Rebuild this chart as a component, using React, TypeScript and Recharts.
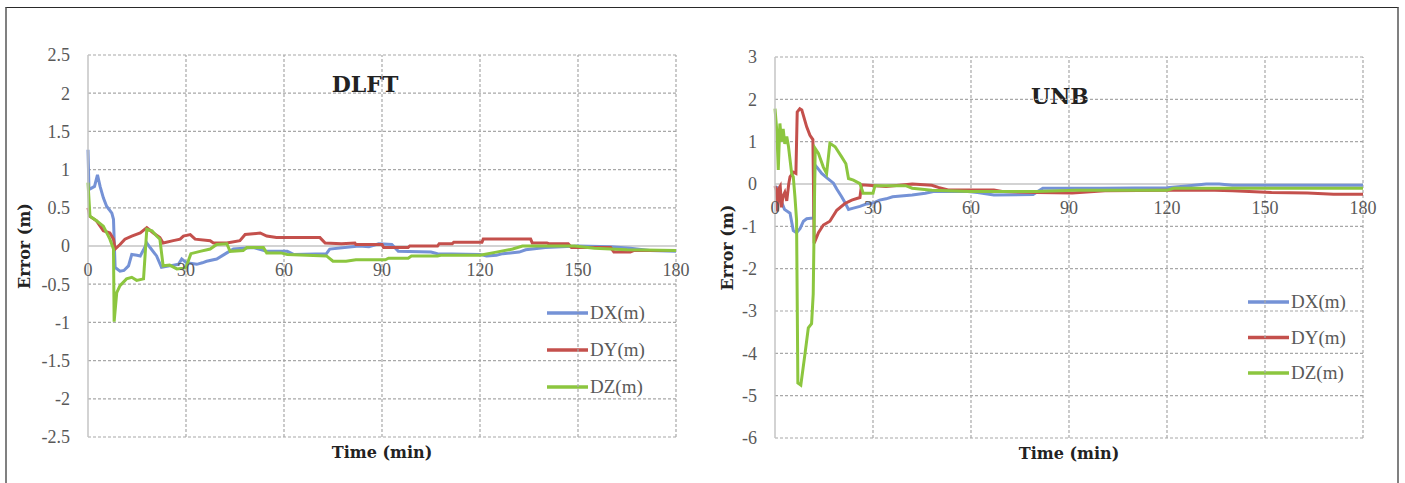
import { LineChart, Line, XAxis, YAxis, ReferenceLine } from "recharts";

type Pt = [number, number];

const timeTicks = [0, 30, 60, 90, 120, 150, 180];
const dlftTicks = [-2.5, -2, -1.5, -1, -0.5, 0, 0.5, 1, 1.5, 2, 2.5];
const unbTicks = [-6, -5, -4, -3, -2, -1, 0, 1, 2, 3];
const seriesNames = ["DX(m)", "DY(m)", "DZ(m)"];
const seriesColors = ["#7592d6", "#c4504c", "#8cc63f"];

// DLFT station, [time (min), error (m)]
const dlftDX: Pt[] = [
	[0, 1.26], [0.3, 0.74], [2, 0.78], [2.9, 0.93], [3.7, 0.78], [4.7, 0.63], [5.7, 0.52], [7.3, 0.43],
	[7.8, 0.35], [8.3, -0.28], [9.8, -0.33], [11, -0.32], [12.4, -0.26], [13.4, -0.11], [15, -0.12],
	[16, -0.13], [17, -0.05], [18, 0.04], [19, -0.02], [21, -0.13], [22.5, -0.28], [25, -0.26],
	[27.7, -0.24], [28.7, -0.17], [30.2, -0.22], [33.3, -0.24], [35, -0.22], [36.3, -0.2], [39.4, -0.17],
	[42.5, -0.09], [44.5, -0.04], [50.6, -0.02], [54.7, -0.07], [61, -0.07], [62.9, -0.11], [73, -0.1],
	[74, -0.04], [83, 0], [86, -0.01], [89, 0.03], [93, 0.02], [95, -0.07], [105, -0.08], [107, -0.1],
	[120, -0.11], [122, -0.13], [125, -0.12], [127, -0.1], [132, -0.08], [134, -0.05], [140, -0.02],
	[150, 0], [160, -0.01], [166, -0.03], [172, -0.06], [180, -0.07],
];
const dlftDY: Pt[] = [
	[0, 0.5], [0.5, 0.39], [2.6, 0.33], [4.7, 0.2], [6.7, 0.17], [7.8, 0.09], [8.3, -0.04], [9.8, 0.02],
	[11.3, 0.09], [13.4, 0.13], [16, 0.17], [18, 0.24], [20, 0.17], [22, 0.11], [23, 0.04], [26.1, 0.07],
	[28.2, 0.09], [29.2, 0.13], [31.3, 0.15], [32.8, 0.09], [37.4, 0.07], [38.4, 0.04], [42.5, 0.04],
	[46.5, 0.07], [48.1, 0.15], [52.7, 0.17], [54.7, 0.13], [57.7, 0.11], [71, 0.11], [72.6, 0.04],
	[77.6, 0.03], [81.7, 0.04], [82, 0.02], [90, 0.02], [90.5, -0.02], [98, -0.02], [98.5, 0],
	[107, 0], [107.5, 0.03], [111.5, 0.03], [112, 0.05], [120.6, 0.05], [121, 0.09], [135.5, 0.09],
	[136, 0.04], [140.5, 0.04], [141, 0.03], [147, 0.03], [148, -0.02], [160, -0.02], [161, -0.08],
	[166, -0.08], [167, -0.06], [180, -0.06],
];
const dlftDZ: Pt[] = [
	[0, 0.83], [0.6, 0.39], [2.6, 0.33], [4.7, 0.26], [6.7, 0.09], [7.8, -0.04], [8, -0.99], [8.8, -0.61],
	[9.8, -0.52], [11.8, -0.43], [13.4, -0.41], [14.9, -0.45], [17, -0.43], [18, 0.22], [19.6, 0.2],
	[21, 0.13], [22, 0.09], [23, -0.26], [25, -0.25], [27.2, -0.3], [29.2, -0.29], [30, -0.28],
	[31.5, -0.1], [34.3, -0.07], [37.4, -0.04], [39.4, 0.02], [42.5, 0.03], [43.5, -0.07], [47.5, -0.06],
	[48.6, -0.02], [53.7, -0.02], [54.7, -0.09], [59, -0.09], [61, -0.11], [73, -0.13], [75, -0.2],
	[79, -0.2], [82, -0.18], [91, -0.18], [92, -0.16], [98, -0.16], [99, -0.13], [107, -0.13],
	[108, -0.12], [120, -0.12], [125, -0.08], [130, -0.04], [133, 0], [149, 0], [155, -0.03],
	[165, -0.05], [180, -0.06],
];

// UNB station
const unbDX: Pt[] = [
	[0, -0.06], [0.5, -0.08], [1.4, -0.3], [2.9, -0.6], [4.6, -0.69], [5.6, -1.1], [6.6, -1.15],
	[7.7, -1.05], [8.7, -0.88], [9.7, -0.82], [11.8, -0.8], [12.2, 0.45], [13, 0.38], [14.3, 0.25],
	[15.8, 0.15], [17.9, 0.02], [18.9, -0.12], [20.4, -0.3], [21.5, -0.45], [22.5, -0.6], [24, -0.57],
	[26, -0.53], [28, -0.47], [30, -0.45], [32, -0.38], [34, -0.35], [36, -0.3], [42, -0.26],
	[46, -0.22], [48.5, -0.18], [59, -0.18], [62, -0.2], [67, -0.26], [79, -0.25], [82, -0.1],
	[100, -0.1], [120, -0.09], [126, -0.05], [132, 0], [136, 0], [140, -0.03], [180, -0.03],
];
const unbDY: Pt[] = [
	[0, -0.05], [0.4, -0.15], [0.8, -0.65], [1.2, -0.1], [1.6, -0.05], [2, -0.55], [2.4, -0.3],
	[3, -0.2], [3.6, -0.4], [4.2, 0], [4.6, 0.17], [5.6, 0.28], [6.4, 0.25], [6.8, 1.7], [7.6, 1.78],
	[8.2, 1.75], [9.7, 1.35], [10.7, 1.15], [11.6, 1.05], [12, -1.4], [13.3, -1.15], [14.8, -0.97],
	[16.8, -0.88], [18.9, -0.62], [21.4, -0.46], [23.5, -0.38], [26, -0.32], [26.5, -0.02], [34, -0.06],
	[42, 0], [48, -0.03], [50, -0.08], [53, -0.14], [67, -0.14], [70, -0.18], [80, -0.2], [91, -0.21],
	[101, -0.16], [132, -0.14], [140, -0.16], [152, -0.2], [163, -0.21], [171, -0.24], [180, -0.24],
];
const unbDZ: Pt[] = [
	[0, 1.78], [0.3, 1.5], [0.6, 1.2], [1, 0.33], [1.3, 1], [1.5, 1.43], [2, 1], [2.5, 1.3], [3, 0.95],
	[3.6, 1.12], [4.1, 0.9], [5.1, 0.25], [5.6, 0.17], [6.1, -0.3], [6.6, -0.85], [7, -4.7], [7.9, -4.75],
	[9.2, -4], [10.2, -3.4], [11.2, -3.3], [11.7, -2.6], [12.3, 0.84], [13.3, 0.72], [14.8, 0.4],
	[15.8, 0.25], [16.8, 0.96], [18.4, 0.88], [20.4, 0.64], [21.7, 0.48], [22.5, 0.13], [24, 0.09],
	[26, 0.01], [27, -0.22], [30, -0.22], [30.6, -0.04], [40, -0.04], [42, -0.1], [48, -0.15],
	[60, -0.18], [80, -0.18], [92, -0.15], [120, -0.15], [122, -0.1], [180, -0.1],
];

const tickFont = "'Liberation Serif', 'Times New Roman', serif";
const titleFont = "'DejaVu Serif', serif";
const gridColor = "#a8a8a8";
const toRows = (pts: Pt[]) => pts.map(([t, v]) => ({ t, v }));

type PanelProps = {
	title: string;
	series: Pt[][];
	yTicks: number[];
	width: number;
	margin: { top: number; right: number; bottom: number; left: number };
	yAxisWidth: number;
	titleX: number;
	titleY: number;
	labelX: number;
	legendX: number;
	legendTop: number;
	legendGap: number;
};

const HEIGHT = 483;
const X_AXIS_HEIGHT = 30;

const Panel = ({ title, series, yTicks, width, margin, yAxisWidth, titleX, titleY, labelX, legendX, legendTop, legendGap }: PanelProps) => {
	const yMin = yTicks[0];
	const yMax = yTicks[yTicks.length - 1];
	const plotTop = margin.top;
	const plotH = HEIGHT - margin.top - margin.bottom - X_AXIS_HEIGHT;
	const plotLeft = margin.left + yAxisWidth;
	const plotW = width - plotLeft - margin.right;
	const zeroFromBottom = (plotH * (0 - yMin)) / (yMax - yMin);

	const XTick = (props: any) => {
		const { x, y, payload } = props;
		return (
			<text x={x} y={y - zeroFromBottom + 30} textAnchor="middle" fontFamily={tickFont} fontSize={18} fill="#595959">
				{payload.value}
			</text>
		);
	};

	return (
		<LineChart width={width} height={HEIGHT} margin={margin}>
			<XAxis
				dataKey="t"
				type="number"
				domain={[0, 180]}
				ticks={timeTicks}
				height={X_AXIS_HEIGHT}
				axisLine={false}
				tickLine={false}
				tickSize={0}
				tickMargin={0}
				tick={<XTick />}
			/>
			<YAxis
				type="number"
				domain={[yMin, yMax]}
				ticks={yTicks}
				width={yAxisWidth}
				interval={0}
				axisLine={{ stroke: "#c4c4c4", strokeWidth: 1.5 }}
				tickLine={false}
				tickMargin={12}
				tick={{ fontFamily: tickFont, fontSize: 18, fill: "#595959" }}
			/>
			{/* dashed grid */}
			{yTicks
				.filter((v) => v !== 0)
				.map((v) => (
					<ReferenceLine key={`h${v}`} y={v} stroke={gridColor} strokeWidth={1.2} strokeDasharray="3 2" />
				))}
			{timeTicks
				.filter((t) => t !== 0)
				.map((t) => (
					<ReferenceLine key={`v${t}`} x={t} stroke={gridColor} strokeWidth={1.2} strokeDasharray="3 2" />
				))}
			<ReferenceLine y={0} stroke="#c4c4c4" strokeWidth={1.5} />
			{series.map((pts, i) => (
				<Line
					key={seriesNames[i]}
					data={toRows(pts)}
					dataKey="v"
					name={seriesNames[i]}
					type="linear"
					stroke={seriesColors[i]}
					strokeWidth={3}
					dot={false}
					activeDot={false}
					isAnimationActive={false}
				/>
			))}
			<text x={titleX} y={titleY} textAnchor="middle" fontFamily={titleFont} fontWeight="bold" fontSize={22} fill="#222">
				{title}
			</text>
			<text
				x={labelX}
				y={plotTop + plotH / 2}
				transform={`rotate(-90 ${labelX} ${plotTop + plotH / 2})`}
				textAnchor="middle"
				dominantBaseline="central"
				fontFamily={titleFont}
				fontWeight="bold"
				fontSize={16}
				fill="#222"
			>
				Error (m)
			</text>
			<text
				x={plotLeft + plotW / 2}
				y={plotTop + plotH + 21}
				textAnchor="middle"
				fontFamily={titleFont}
				fontWeight="bold"
				fontSize={16}
				fill="#222"
			>
				Time (min)
			</text>
			<g>
				<rect x={legendX - 7} y={legendTop - 20} width={118} height={legendGap * 2 + 40} fill="#fff" />
				{seriesNames.map((name, i) => (
					<g key={name}>
						<line
							x1={legendX}
							x2={legendX + 41}
							y1={legendTop + i * legendGap}
							y2={legendTop + i * legendGap}
							stroke={seriesColors[i]}
							strokeWidth={3.5}
						/>
						<text x={legendX + 43} y={legendTop + i * legendGap + 6} fontFamily={tickFont} fontSize={19} fill="#595959">
							{name}
						</text>
					</g>
				))}
			</g>
		</LineChart>
	);
};

const App = () => {
	return (
		<div style={{ position: "absolute", left: 0, top: 0, width: 1405, height: 483, overflow: "hidden", background: "#fff" }}>
			<div
				style={{
					position: "absolute",
					left: 5,
					top: 7,
					width: 1390,
					height: 500,
					borderTop: "1.5px solid #2a2a2a",
					borderLeft: "2px solid #808080",
					borderRight: "2px solid #808080",
				}}
			/>
			<div style={{ position: "absolute", left: 0, top: 0 }}>
				<Panel
					title="DLFT"
					series={[dlftDX, dlftDY, dlftDZ]}
					yTicks={dlftTicks}
					width={700}
					margin={{ top: 55, right: 24, bottom: 16, left: 0 }}
					yAxisWidth={88}
					titleX={365}
					titleY={92}
					labelX={24}
					legendX={547}
					legendTop={313}
					legendGap={37}
				/>
			</div>
			<div style={{ position: "absolute", left: 700, top: 0 }}>
				<Panel
					title="UNB"
					series={[unbDX, unbDY, unbDZ]}
					yTicks={unbTicks}
					width={705}
					margin={{ top: 57, right: 42, bottom: 15, left: 0 }}
					yAxisWidth={75}
					titleX={360}
					titleY={104}
					labelX={27}
					legendX={548}
					legendTop={302}
					legendGap={35.5}
				/>
			</div>
		</div>
	);
};

export default App;
